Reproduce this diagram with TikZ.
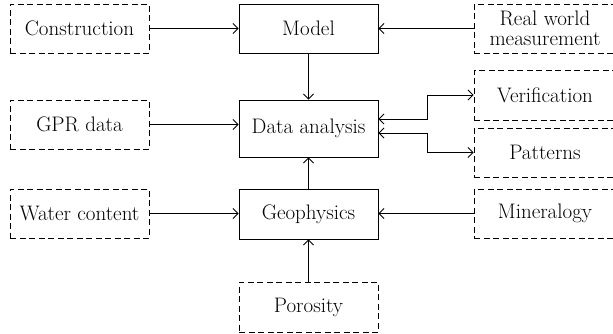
\documentclass[tikz,border=0pt]{standalone}
\usepackage{fontspec}
\usetikzlibrary{arrows.meta}
\begin{document}
\begin{tikzpicture}[x=1pt,y=-1pt,
  box/.style={draw, line width=0.9pt, minimum width=139pt, minimum height=49pt, inner sep=0pt, align=center,
     font=\rmfamily\fontsize{21}{20}\selectfont},
  dbox/.style={box, dash pattern=on 6pt off 3.5pt},
  conn/.style={line width=0.9pt, -{Straight Barb[length=5pt,width=10pt]}},
  dconn/.style={line width=0.9pt, {Straight Barb[length=5pt,width=10pt]}-{Straight Barb[length=5pt,width=10pt]}}]
\useasboundingbox (0,0) rectangle (613,333);
\node[dbox] (cons) at (79.5,28.5) {Construction};
\node[box] (model) at (308.5,28.5) {Model};
\node[dbox, minimum width=142pt] (real) at (545,28.5) {Real world\\measurement};
\node[dbox] (gpr) at (79.5,124.5) {GPR data};
\node[box, minimum height=57pt] (da) at (308.5,128.5) {Data analysis};
\node[dbox, minimum width=142pt, minimum height=50pt] (ver) at (545,95) {Verification};
\node[dbox, minimum width=142pt] (pat) at (545,152.5) {Patterns};
\node[dbox] (wat) at (79.5,213.5) {Water content};
\node[box, minimum height=50pt] (geo) at (308.5,214) {Geophysics};
\node[dbox, minimum width=142pt] (min) at (545,213.5) {Mineralogy};
\node[dbox, minimum height=50pt] (por) at (308.5,307) {Porosity};

\draw[conn] (cons.east) -- (model.west);
\draw[conn] (real.west) -- (model.east);
\draw[conn] (model.south) -- (da.north);
\draw[conn] (gpr.east) -- (gpr.east -| da.west);
\draw[conn] (geo.north) -- (da.south);
\draw[conn] (wat.east) -- (wat.east -| geo.west);
\draw[conn] (min.west) -- (min.west -| geo.east);
\draw[conn] (por.north) -- (geo.south);
\draw[dconn] ([yshift=9.5pt]da.east) -- ++(49,0) |- (ver.west);
\draw[dconn] ([yshift=-4.5pt]da.east) -- ++(49,0) |- (pat.west);
\end{tikzpicture}
\end{document}
